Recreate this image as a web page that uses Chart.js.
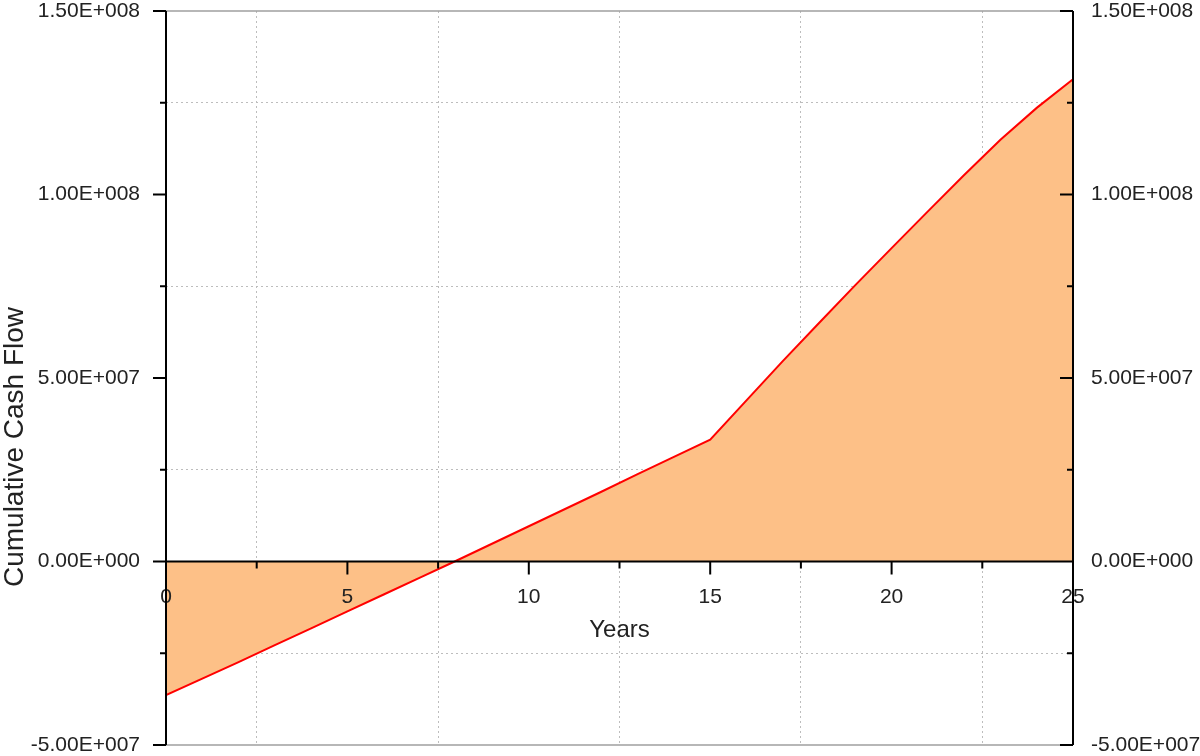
<!DOCTYPE html>
<html>
<head>
<meta charset="utf-8">
<script src="https://cdn.jsdelivr.net/npm/chart.js@4.4.0/dist/chart.umd.min.js"></script>
<style>
  html, body { margin: 0; padding: 0; background: #fff; }
  #wrap { width: 1200px; height: 756px; position: relative; }
</style>
</head>
<body>
<div id="wrap"><canvas id="cashflow"></canvas></div>
<script>
// data (years, cumulative cash flow)
var years = [0, 1, 2, 3, 4, 5, 6, 7, 8, 9, 10, 11, 12, 13, 14, 15, 16, 17, 18, 19, 20, 21, 22, 23, 24, 25];
var cashFlow = [
    -36.4e6, -31.9e6, -27.4e6, -22.8e6, -18.2e6, -13.6e6, -9.0e6, -4.4e6, 0.2e6, 4.9e6,
    9.6e6, 14.3e6, 19.0e6, 23.8e6, 28.5e6, 33.2e6, 43.9e6, 54.6e6, 65.0e6, 75.3e6,
    85.4e6, 95.4e6, 105.3e6, 114.9e6, 123.6e6, 131.4e6
];
var xRange = [0, 25];
var xStep = 2.5;
var yRange = [-5e7, 1.5e8];
var yStep = 2.5e7;
var xTitle = 'Years';
var yTitle = 'Cumulative Cash Flow';

var textColor = '#222';
var gridColor = '#bdbdbd';
var fontFamily = "'Liberation Sans', Arial, sans-serif";
Chart.defaults.font.family = fontFamily;

function fmtSci(v) {
    if (v === 0) return '0.00E+000';
    var e = Math.floor(Math.log10(Math.abs(v)));
    var m = v / Math.pow(10, e);
    var es = String(Math.abs(e));
    while (es.length < 3) es = '0' + es;
    return m.toFixed(2) + 'E' + (e < 0 ? '-' : '+') + es;
}
function isMajorY(v) { return Math.abs(v % 5e7) < 1; }
function isMajorX(v) { return Math.abs(v % 5) < 1e-9; }

var points = years.map(function (y, i) { return { x: y, y: cashFlow[i] }; });

// y scales: fixed width, no extra vertical padding from the labels
function fixWidth(w) {
    return function (s) {
        s.width = w;
        s.paddingTop = 0;
        s.paddingBottom = 0;
    };
}

// axis lines, tick marks and the axis titles
var axesPlugin = {
    id: 'axes',
    afterDraw: function (chart) {
        var ctx = chart.ctx;
        var a = chart.chartArea;
        var xs = chart.scales.x, ys = chart.scales.y;
        var y0 = ys.getPixelForValue(0);
        ctx.save();
        // frame top/bottom in grey
        ctx.strokeStyle = '#a0a0a0';
        ctx.lineWidth = 1.5;
        ctx.beginPath();
        ctx.moveTo(a.left, a.top); ctx.lineTo(a.right, a.top);
        ctx.moveTo(a.left, a.bottom); ctx.lineTo(a.right, a.bottom);
        ctx.stroke();

        ctx.strokeStyle = '#000';
        ctx.lineWidth = 2;
        ctx.beginPath();
        ctx.moveTo(a.left, a.top); ctx.lineTo(a.left, a.bottom);
        ctx.moveTo(a.right, a.top); ctx.lineTo(a.right, a.bottom);
        ctx.moveTo(a.left, y0); ctx.lineTo(a.right, y0);
        ys.ticks.forEach(function (t) {
            var p = ys.getPixelForValue(t.value);
            var len = isMajorY(t.value) ? 13 : 6;
            ctx.moveTo(a.left - len, p); ctx.lineTo(a.left, p);
            ctx.moveTo(a.right - len, p); ctx.lineTo(a.right, p);
        });
        xs.ticks.forEach(function (t) {
            var p = xs.getPixelForValue(t.value);
            var len = isMajorX(t.value) ? 13 : 7;
            ctx.moveTo(p, y0); ctx.lineTo(p, y0 + len);
        });
        ctx.stroke();

        ctx.fillStyle = textColor;
        ctx.textAlign = 'center';
        ctx.textBaseline = 'middle';
        ctx.font = '24px ' + fontFamily;
        ctx.fillText(xTitle, (a.left + a.right) / 2, y0 + 69);

        ctx.translate(15, 447);
        ctx.rotate(-Math.PI / 2);
        ctx.font = '28px ' + fontFamily;
        ctx.fillText(yTitle, 0, 0);
        ctx.restore();
    }
};

new Chart(document.getElementById('cashflow'), {
    type: 'line',
    data: {
        datasets: [{
            data: points,
            borderColor: '#ff0000',
            borderWidth: 2,
            backgroundColor: '#fdc087',
            fill: 'origin',
            pointRadius: 0,
            tension: 0
        }]
    },
    options: {
        responsive: true,
        maintainAspectRatio: false,
        animation: false,
        layout: { padding: { top: 11, bottom: 11, left: 0, right: 0 } },
        plugins: { legend: { display: false }, tooltip: { enabled: false } },
        scales: {
            x: {
                type: 'linear',
                min: xRange[0], max: xRange[1],
                position: { y: 0 },
                ticks: {
                    stepSize: xStep, autoSkip: false, maxRotation: 0, z: 1,
                    color: textColor, font: { size: 21 },
                    callback: function (v) { return isMajorX(v) ? String(v) : ''; }
                },
                grid: {
                    drawTicks: true, tickLength: 20, tickColor: 'transparent',
                    color: function (c) { return c.tick && !isMajorX(c.tick.value) ? gridColor : 'transparent'; }
                },
                border: { display: false, dash: [2, 3] }
            },
            y: {
                min: yRange[0], max: yRange[1],
                position: 'left',
                afterFit: fixWidth(166),
                ticks: {
                    stepSize: yStep, padding: 26, color: textColor, font: { size: 21 },
                    callback: function (v) { return isMajorY(v) ? fmtSci(v) : ''; }
                },
                grid: {
                    drawTicks: false,
                    color: function (c) { return c.tick && !isMajorY(c.tick.value) ? gridColor : 'transparent'; }
                },
                border: { display: false, dash: [2, 3] }
            },
            y2: {
                min: yRange[0], max: yRange[1],
                position: 'right',
                afterFit: fixWidth(127),
                ticks: {
                    stepSize: yStep, padding: 18, color: textColor, font: { size: 21 },
                    callback: function (v) { return isMajorY(v) ? fmtSci(v) : ''; }
                },
                grid: { display: false, drawTicks: false },
                border: { display: false }
            }
        }
    },
    plugins: [axesPlugin]
});
</script>
</body>
</html>
